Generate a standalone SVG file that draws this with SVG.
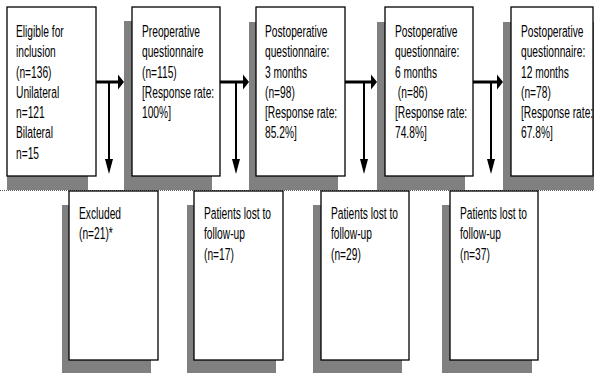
<svg xmlns="http://www.w3.org/2000/svg" width="594" height="373" viewBox="0 0 594 373">
<defs>
<style>
.box{fill:#fff;stroke:#000;stroke-width:1.3}
.sh{fill:#808080}
.lbl{font-family:"Liberation Sans",Arial,sans-serif;font-size:16.5px;fill:#000}
.h{stroke:#000;stroke-width:3;fill:none;marker-end:url(#ah)}
.v{stroke:#000;stroke-width:2;fill:none;marker-end:url(#av)}
</style>
<marker id="ah" markerUnits="userSpaceOnUse" markerWidth="7" markerHeight="15" refX="1" refY="7.5" orient="auto" overflow="visible">
<path d="M0,0 L6,7.5 L0,15 Z" fill="#000"/>
</marker>
<marker id="av" markerUnits="userSpaceOnUse" markerWidth="15" markerHeight="8" refX="1" refY="4" orient="auto" overflow="visible">
<path d="M0,0 L15,4 L0,8 Z" fill="#000"/>
</marker>
</defs>
<rect width="594" height="373" fill="#fff"/>
<line x1="0" y1="190.5" x2="594" y2="190.5" stroke="#555" stroke-width="1" stroke-dasharray="1,1"/>

<g id="n1">
<rect class="sh" x="7" y="176" width="81" height="14"/>
<rect class="box" x="7" y="7" width="89" height="169"/>
<text class="lbl" transform="translate(16,37) scale(0.62,1)"><tspan x="0" y="0">Eligible for</tspan><tspan x="0" y="20.3">inclusion</tspan><tspan x="0" y="40.6">(n=136)</tspan><tspan x="0" y="60.9">Unilateral</tspan><tspan x="0" y="81.2">n=121</tspan><tspan x="0" y="101.5">Bilateral</tspan><tspan x="0" y="121.8">n=15</tspan></text>
</g>
<g id="n2">
<rect class="sh" x="124" y="21" width="88" height="169"/>
<rect class="box" x="132" y="7" width="88" height="169"/>
<text class="lbl" transform="translate(142,37) scale(0.62,1)"><tspan x="0" y="0">Preoperative</tspan><tspan x="0" y="20.3">questionnaire</tspan><tspan x="0" y="40.6">(n=115)</tspan><tspan x="0" y="60.9">[Response rate:</tspan><tspan x="0" y="81.2">100%]</tspan></text>
</g>
<g id="n3">
<rect class="sh" x="249" y="22" width="89" height="168"/>
<rect class="box" x="256" y="7" width="89" height="169"/>
<text class="lbl" transform="translate(265,37) scale(0.62,1)"><tspan x="0" y="0">Postoperative</tspan><tspan x="0" y="20.3">questionnaire:</tspan><tspan x="0" y="40.6">3 months</tspan><tspan x="0" y="60.9">(n=98)</tspan><tspan x="0" y="81.2">[Response rate:</tspan><tspan x="0" y="101.5">85.2%]</tspan></text>
</g>
<g id="n4">
<rect class="sh" x="377" y="22" width="88" height="168"/>
<rect class="box" x="385" y="7" width="88" height="169"/>
<text class="lbl" transform="translate(395,37) scale(0.62,1)" xml:space="preserve"><tspan x="0" y="0">Postoperative</tspan><tspan x="0" y="20.3">questionnaire:</tspan><tspan x="0" y="40.6">6 months</tspan><tspan x="0" y="60.9"> (n=86)</tspan><tspan x="0" y="81.2">[Response rate:</tspan><tspan x="0" y="101.5">74.8%]</tspan></text>
</g>
<g id="n5">
<rect class="sh" x="503" y="22" width="91" height="168"/>
<rect class="box" x="511" y="7" width="82" height="169"/>
<text class="lbl" transform="translate(521,37) scale(0.62,1)"><tspan x="0" y="0">Postoperative</tspan><tspan x="0" y="20.3">questionnaire:</tspan><tspan x="0" y="40.6">12 months</tspan><tspan x="0" y="60.9">(n=78)</tspan><tspan x="0" y="81.2">[Response rate:</tspan><tspan x="0" y="101.5">67.8%]</tspan></text>
</g>

<g id="e1">
<rect class="sh" x="62" y="205" width="89" height="168"/>
<rect class="box" x="69" y="191" width="89" height="169"/>
<text class="lbl" transform="translate(79,219) scale(0.62,1)"><tspan x="0" y="0">Excluded</tspan><tspan x="0" y="20.3">(n=21)*</tspan></text>
</g>
<g id="e2">
<rect class="sh" x="187" y="205" width="89" height="168"/>
<rect class="box" x="194" y="191" width="89" height="169"/>
<text class="lbl" transform="translate(204,219) scale(0.62,1)"><tspan x="0" y="0">Patients lost to</tspan><tspan x="0" y="20.3">follow-up</tspan><tspan x="0" y="40.6">(n=17)</tspan></text>
</g>
<g id="e3">
<rect class="sh" x="313" y="205" width="89" height="168"/>
<rect class="box" x="321" y="191" width="88" height="169"/>
<text class="lbl" transform="translate(331,219) scale(0.62,1)"><tspan x="0" y="0">Patients lost to</tspan><tspan x="0" y="20.3">follow-up</tspan><tspan x="0" y="40.6">(n=29)</tspan></text>
</g>
<g id="e4">
<rect class="sh" x="442" y="205" width="90" height="168"/>
<rect class="box" x="450" y="191" width="88" height="169"/>
<text class="lbl" transform="translate(460,219) scale(0.62,1)"><tspan x="0" y="0">Patients lost to</tspan><tspan x="0" y="20.3">follow-up</tspan><tspan x="0" y="40.6">(n=37)</tspan></text>
</g>

<g id="connectors">
<line class="h" x1="96" y1="82" x2="119" y2="82"/>
<path class="v" d="M109,82 L109,160"/>
<line class="h" x1="220" y1="82" x2="244" y2="82"/>
<path class="v" d="M236,82 L236,160"/>
<line class="h" x1="345" y1="82" x2="372" y2="82"/>
<path class="v" d="M364,82 L364,160"/>
<line class="h" x1="473" y1="82" x2="498" y2="82"/>
<path class="v" d="M491,82 L491,160"/>
</g>
</svg>
